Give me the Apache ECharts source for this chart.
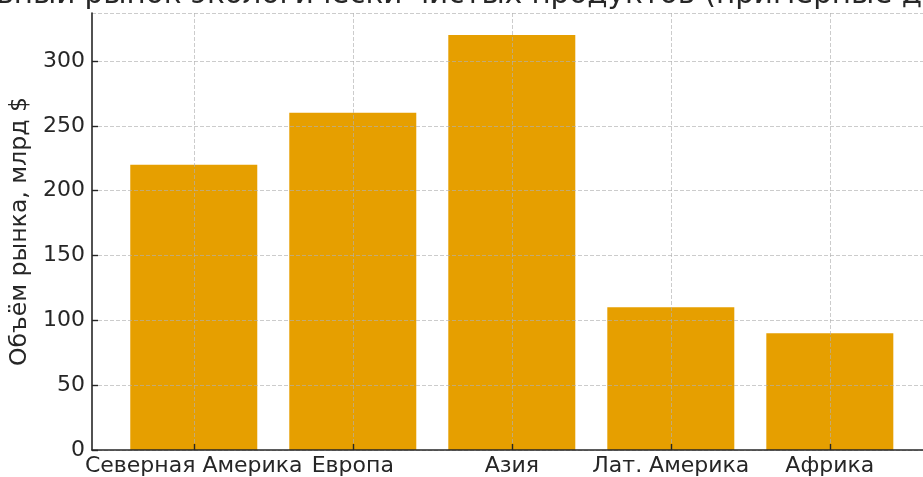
<!DOCTYPE html>
<html>
<head>
<meta charset="utf-8">
<script src="https://cdn.jsdelivr.net/npm/echarts@6/dist/echarts.min.js"></script>
<style>
    html, body { margin: 0; padding: 0; background: #fff; }
    #marketChart { width: 923px; height: 477px; }
</style>
</head>
<body>
<div id="marketChart"></div>
<script>
// регионы и объём рынка, млрд $
var regions = ['Северная Америка', 'Европа', 'Азия', 'Лат. Америка', 'Африка'];
var marketSize = [220, 260, 320, 110, 90];
var yTicks = [0, 50, 100, 150, 200, 250, 300];

var FONT = 'DejaVu Sans';
var gridLine = { color: 'rgba(176,176,176,0.65)', type: [4, 2], width: 1 };

// позиции столбцов по индексу категории
var barData = [];
var tickPos = [];
for (var i = 0; i < regions.length; i++) {
    barData.push([i, marketSize[i]]);
    tickPos.push(i);
}

var option = {
    animation: false,
    backgroundColor: '#fff',
    graphic: [{
        type: 'text',
        x: 459,
        y: 10,
        style: {
            text: 'Глобальный рынок экологически чистых продуктов (примерные данные)',
            font: '29.4px "DejaVu Sans"',
            fill: '#262626',
            align: 'center',
            verticalAlign: 'bottom'
        }
    }],
    // правый край оси уходит за кадр, поэтому max обрезан по ширине окна
    grid: { left: 92, right: 0, top: 13, bottom: 27 },
    xAxis: {
        type: 'value',
        min: -0.64,
        max: 4.586,
        z: 5,
        axisLine: { show: true, onZero: false, lineStyle: { color: '#262626', width: 1.6 } },
        axisTick: { show: true, inside: true, length: 6, customValues: tickPos, lineStyle: { color: '#262626', width: 1.4 } },
        axisLabel: {
            customValues: tickPos,
            margin: 5,
            color: '#262626',
            fontFamily: FONT,
            fontSize: 22,
            formatter: function (v) { return regions[Math.round(v)]; }
        },
        splitLine: { show: true, lineStyle: gridLine }
    },
    yAxis: {
        type: 'value',
        min: 0,
        max: 337,
        interval: 50,
        z: 5,
        name: 'Объём рынка, млрд $',
        nameLocation: 'middle',
        nameRotate: 90,
        nameGap: 55,
        nameTextStyle: { color: '#262626', fontFamily: FONT, fontSize: 23.6, padding: [6, 0, 0, 0] },
        axisLine: { show: true, onZero: false, lineStyle: { color: '#262626', width: 1.6 } },
        axisTick: { show: true, inside: true, length: 6, lineStyle: { color: '#262626', width: 1.4 } },
        axisLabel: {
            margin: 7,
            color: '#262626',
            fontFamily: FONT,
            fontSize: 22,
            showMaxLabel: false,
            formatter: function (v) { return yTicks.indexOf(v) >= 0 ? String(v) : ''; }
        },
        splitLine: { show: true, lineStyle: gridLine }
    },
    series: [{
        type: 'bar',
        data: barData,
        barWidth: 127,
        z: 2,
        itemStyle: { color: '#E69F00' }
    }]
};

var marketChart = echarts.init(document.getElementById('marketChart'));
marketChart.setOption(option);
</script>
</body>
</html>
